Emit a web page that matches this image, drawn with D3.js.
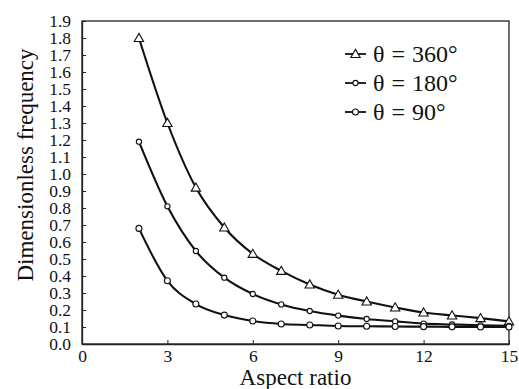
<!DOCTYPE html>
<html>
<head>
<meta charset="utf-8">
<script src="https://cdn.jsdelivr.net/npm/d3@7"></script>
<style>
  body { margin: 0; background: #fff; }
  svg { display: block; }
  svg text { font-family: "Liberation Serif", "Times New Roman", Times, serif; }
</style>
</head>
<body>
<svg id="chart"></svg>
<script>
var width = 519;
var height = 389;
var margin = { top : 21, bottom : 45, left : 82, right : 10 };
var serif = "Liberation Serif, Times New Roman, Times, serif";

// data
var aspectRatio = [2, 3, 4, 5, 6, 7, 8, 9, 10, 11, 12, 13, 14, 15];
var freq360 = [1.80, 1.30, 0.92, 0.685, 0.53, 0.43, 0.35, 0.29, 0.25, 0.215, 0.185, 0.168, 0.152, 0.133];
var freq180 = [1.19, 0.81, 0.547, 0.39, 0.294, 0.233, 0.194, 0.167, 0.147, 0.133, 0.12, 0.115, 0.11, 0.107];
var freq90  = [0.68, 0.372, 0.235, 0.17, 0.135, 0.118, 0.112, 0.106, 0.104, 0.103, 0.102, 0.101, 0.100, 0.100];
var seriesNames = ["\u03B8 = 360\u00B0", "\u03B8 = 180\u00B0", "\u03B8 = 90\u00B0"];
var xTicks = [0, 3, 6, 9, 12, 15];
var yTicks = d3.range(0, 20).map(d => d / 10);

var series = [
  { name : seriesNames[0], values : freq360, marker : "triangle" },
  { name : seriesNames[1], values : freq180, marker : "circle", r : 2.6 },
  { name : seriesNames[2], values : freq90, marker : "circle", r : 3 }
];

var svg = d3.select('#chart')
  .attr('width', width)
  .attr('height', height)
  .attr('font-family', serif);

var x = d3.scaleLinear()
  .domain([0, 15])
  .range([margin.left, width - margin.right]);

var y = d3.scaleLinear()
  .domain([0, 1.9])
  .range([height - margin.bottom, margin.top]);

// frame
svg.append("rect")
  .attr("x", x(0))
  .attr("y", y(1.9))
  .attr("width", x(15) - x(0))
  .attr("height", y(0) - y(1.9))
  .attr("fill", "none")
  .attr("stroke", "#222")
  .attr("stroke-width", 1.3);

// axes, ticks pointing inward
var xAxis = svg.append("g")
  .attr("transform", "translate(0," + y(0) + ")")
  .call(d3.axisBottom(x).tickValues(xTicks).tickFormat(d3.format("d")).tickSizeInner(-4).tickSizeOuter(0).tickPadding(6));

var yAxis = svg.append("g")
  .attr("transform", "translate(" + x(0) + ",0)")
  .call(d3.axisLeft(y).tickValues(yTicks).tickFormat(d3.format(".1f")).tickSizeInner(-4).tickSizeOuter(0).tickPadding(11));

[xAxis, yAxis].forEach(function(g) {
  g.attr("font-family", serif).attr("font-size", 17.5);
  g.select(".domain").attr("stroke", "#222").attr("stroke-width", 1.3);
  g.selectAll(".tick line").attr("stroke", "#222").attr("stroke-width", 1);
  g.selectAll(".tick text").attr("fill", "#111");
});

// curves
var line = d3.line()
  .x((d, i) => x(aspectRatio[i]))
  .y(d => y(d))
  .curve(d3.curveMonotoneX);

svg.selectAll("path.curve")
  .data(series)
  .join("path")
    .attr("class", "curve")
    .attr("d", s => line(s.values))
    .attr("fill", "none")
    .attr("stroke", "#111")
    .attr("stroke-width", 2.1);

function drawMarker(g, s, cx, cy) {
  if (s.marker == "triangle") {
    g.append("path")
      .attr("d", d3.symbol().type(d3.symbolTriangle).size(38)())
      .attr("transform", "translate(" + cx + "," + (cy + 0.8) + ")")
      .attr("fill", "#fff")
      .attr("stroke", "#111")
      .attr("stroke-width", 1.1);
  } else {
    g.append("circle")
      .attr("cx", cx)
      .attr("cy", cy)
      .attr("r", s.r)
      .attr("fill", "#fff")
      .attr("stroke", "#111")
      .attr("stroke-width", 1.1);
  }
}

// markers
var markers = svg.append("g");
series.forEach(function(s) {
  s.values.forEach(function(v, i) {
    drawMarker(markers, s, x(aspectRatio[i]), y(v));
  });
});

// legend
var legend = svg.append("g");
series.forEach(function(s, i) {
  var ly = 54 + i * 29;
  legend.append("line")
    .attr("x1", 345).attr("x2", 366)
    .attr("y1", ly).attr("y2", ly)
    .attr("stroke", "#111")
    .attr("stroke-width", 1.8);
  drawMarker(legend, s, 355.5, ly);
  legend.append("text")
    .attr("x", 373)
    .attr("y", ly)
    .attr("dy", "0.35em")
    .attr("font-size", 24)
    .attr("word-spacing", 1)
    .attr("fill", "#111")
    .text(s.name);
});

// axis titles
svg.append("text")
  .attr("x", (x(0) + x(15)) / 2)
  .attr("y", 385)
  .attr("text-anchor", "middle")
  .attr("font-size", 23)
  .attr("fill", "#111")
  .text("Aspect ratio");

svg.append("text")
  .attr("transform", "rotate(-90)")
  .attr("x", -165)
  .attr("y", 33)
  .attr("text-anchor", "middle")
  .attr("font-size", 23)
  .attr("fill", "#111")
  .text("Dimensionless frequency");
</script>
</body>
</html>
